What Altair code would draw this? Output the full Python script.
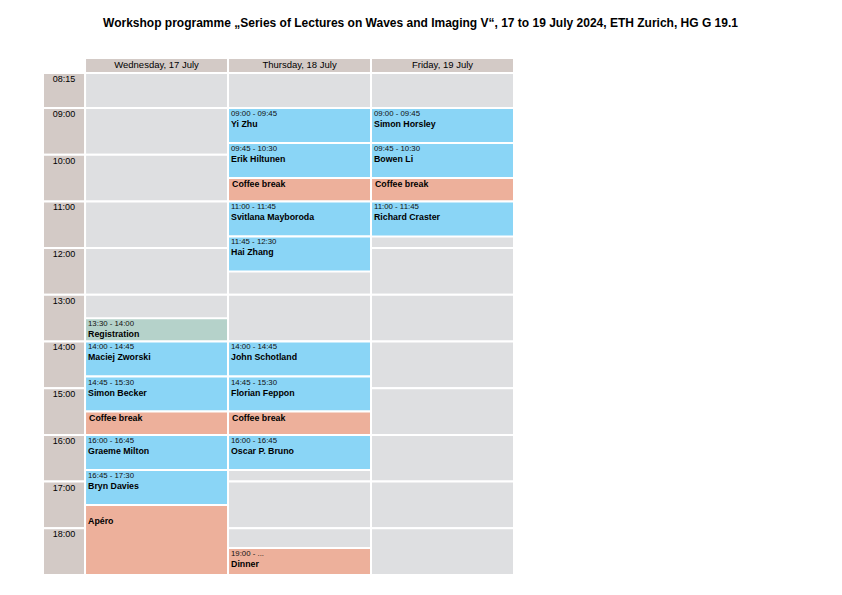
import altair as alt
import pandas as pd

TITLE = "Workshop programme \u201eSeries of Lectures on Waves and Imaging V\u201c, 17 to 19 July 2024, ETH Zurich, HG G 19.1"

days = ["Wednesday, 17 July", "Thursday, 18 July", "Friday, 19 July"]
row_starts = [8.25, 9, 10, 11, 12, 13, 14, 15, 16, 17, 18]
row_labels = ["08:15", "09:00", "10:00", "11:00", "12:00", "13:00", "14:00",
              "15:00", "16:00", "17:00", "18:00"]
day_end = 19.0

ev_day = [0, 0, 0, 0, 0, 0, 0,
          1, 1, 1, 1, 1, 1, 1, 1, 1, 1,
          2, 2, 2, 2]
ev_start = [13.5, 14.0, 14.75, 15.5, 16.0, 16.75, 17.5,
            9.0, 9.75, 10.5, 11.0, 11.75, 14.0, 14.75, 15.5, 16.0, 18.42,
            9.0, 9.75, 10.5, 11.0]
ev_end = [14.0, 14.75, 15.5, 16.0, 16.75, 17.5, 19.0,
          9.75, 10.5, 11.0, 11.75, 12.5, 14.75, 15.5, 16.0, 16.75, 19.0,
          9.75, 10.5, 11.0, 11.75]
ev_time = ["13:30 - 14:00", "14:00 - 14:45", "14:45 - 15:30", None, "16:00 - 16:45", "16:45 - 17:30", "",
           "09:00 - 09:45", "09:45 - 10:30", None, "11:00 - 11:45", "11:45 - 12:30", "14:00 - 14:45",
           "14:45 - 15:30", None, "16:00 - 16:45", "19:00 - ...",
           "09:00 - 09:45", "09:45 - 10:30", None, "11:00 - 11:45"]
ev_name = ["Registration", "Maciej Zworski", "Simon Becker", "Coffee break", "Graeme Milton", "Bryn Davies", "Ap\u00e9ro",
           "Yi Zhu", "Erik Hiltunen", "Coffee break", "Svitlana Mayboroda", "Hai Zhang", "John Schotland",
           "Florian Feppon", "Coffee break", "Oscar P. Bruno", "Dinner",
           "Simon Horsley", "Bowen Li", "Coffee break", "Richard Craster"]
ev_kind = ["registration", "talk", "talk", "break", "talk", "talk", "break",
           "talk", "talk", "break", "talk", "talk", "talk", "talk", "break", "talk", "break",
           "talk", "talk", "break", "talk"]

kind_domain = ["talk", "break", "registration"]
kind_colors = ["#8AD5F6", "#EDB09B", "#B5D2CA"]

FONT = "Liberation Sans"
TIME_COL = -0.294
Y_TOP = 7.93

# ---- tables ----
row_ends = row_starts[1:] + [day_end]
cells = pd.DataFrame([
    {"x0": d, "x1": d + 1, "y0": s, "y1": e}
    for d in range(len(days)) for s, e in zip(row_starts, row_ends)
])
time_cells = pd.DataFrame({"x0": TIME_COL, "x1": 0.0, "y0": row_starts, "y1": row_ends,
                           "label": row_labels})
header = pd.DataFrame({"x0": list(range(len(days))), "x1": [i + 1 for i in range(len(days))],
                       "y0": Y_TOP, "y1": row_starts[0], "label": days})
header["xm"] = header["x0"] + 0.5
header["ym"] = (header["y0"] + header["y1"]) / 2

events = pd.DataFrame({"day": ev_day, "y0": ev_start, "y1": ev_end, "time": ev_time,
                       "name": ev_name, "kind": ev_kind})
events["x0"] = events["day"]
events["x1"] = events["day"] + 1
events["has_time"] = events["time"].notna()
events["time"] = events["time"].fillna("")

xs = alt.Scale(domain=[TIME_COL, 3], nice=False, zero=False)
ys = alt.Scale(domain=[Y_TOP, day_end], reverse=True, nice=False, zero=False)
X = lambda f: alt.X(f, type="quantitative", scale=xs, axis=None)
Y = lambda f: alt.Y(f, type="quantitative", scale=ys, axis=None)

bg = alt.Chart(cells).mark_rect(color="#DEDFE1", stroke="white", strokeWidth=2).encode(
    x=X("x0"), x2="x1", y=Y("y0"), y2="y1")

tc = alt.Chart(time_cells).mark_rect(color="#D3CAC6", stroke="white", strokeWidth=2).encode(
    x=X("x0"), x2="x1", y=Y("y0"), y2="y1")
tc_text = alt.Chart(time_cells).mark_text(font=FONT, fontSize=9, baseline="middle", dy=6, color="black").encode(
    x=alt.X("xm:Q", scale=xs, axis=None), y=Y("y0"), text="label:N"
).transform_calculate(xm=f"({TIME_COL})/2")

hd = alt.Chart(header).mark_rect(color="#D3CAC6", stroke="white", strokeWidth=2).encode(
    x=X("x0"), x2="x1", y=Y("y0"), y2="y1")
hd_text = alt.Chart(header).mark_text(font=FONT, fontSize=9.5, baseline="middle", color="black").encode(
    x=alt.X("xm:Q", scale=xs, axis=None), y=alt.Y("ym:Q", scale=ys, axis=None), text="label:N")

ev = alt.Chart(events).mark_rect(stroke="white", strokeWidth=2).encode(
    x=X("x0"), x2="x1", y=Y("y0"), y2="y1",
    color=alt.Color("kind:N", scale=alt.Scale(domain=kind_domain, range=kind_colors), legend=None))

ev_time_txt = alt.Chart(events).mark_text(font=FONT, fontSize=7.8, align="left", baseline="middle",
                                          dx=3, dy=6, color="#111").encode(
    x=X("x0"), y=Y("y0"), text="time:N")
ev_name_a = alt.Chart(events).transform_filter("datum.has_time").mark_text(
    font=FONT, fontSize=8.8, fontWeight="bold", align="left", baseline="middle", dx=3, dy=16, color="black"
).encode(x=X("x0"), y=Y("y0"), text="name:N")
ev_name_b = alt.Chart(events).transform_filter("!datum.has_time").mark_text(
    font=FONT, fontSize=8.8, fontWeight="bold", align="left", baseline="middle", dx=4, dy=6, color="black"
).encode(x=X("x0"), y=Y("y0"), text="name:N")

chart = alt.layer(bg, tc, tc_text, hd, hd_text, ev, ev_time_txt, ev_name_a, ev_name_b).properties(
    width=471, height=517,
    padding={"left": 35, "top": 50, "right": 320, "bottom": 10},
    autosize=alt.AutoSizeParams(type="none"),
    title=alt.TitleParams(TITLE, font=FONT, fontSize=12, fontWeight="bold", anchor="middle",
                          dx=142, offset=27, color="black"),
).configure_view(stroke=None)

chart.save("out.html", embed_options={"renderer": "svg", "actions": False})
